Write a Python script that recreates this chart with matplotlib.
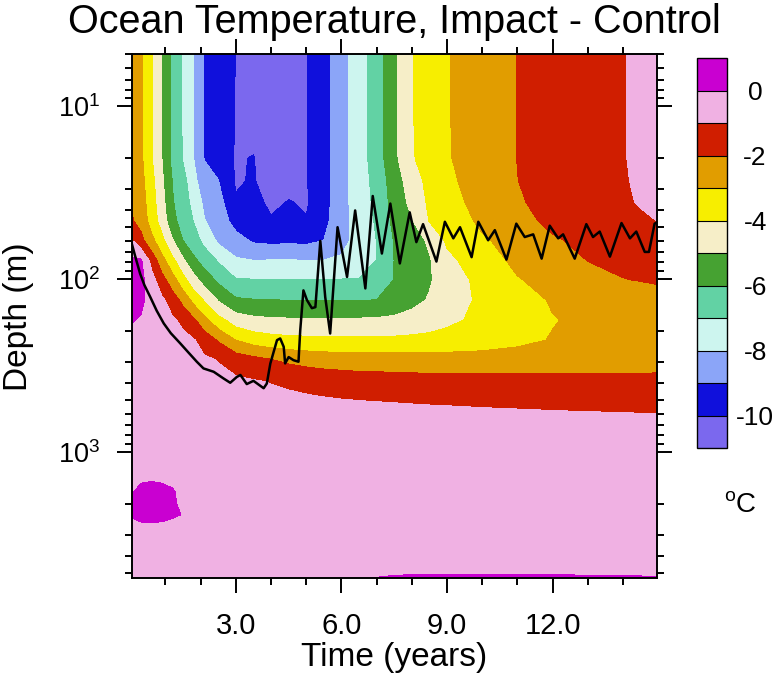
import numpy as np
import matplotlib
matplotlib.use("Agg")
import matplotlib.pyplot as plt
from matplotlib.ticker import FixedLocator, LogLocator, NullFormatter, FormatStrFormatter

plt.rcParams['font.family'] = ['Liberation Sans', 'DejaVu Sans']
plt.rcParams['axes.unicode_minus'] = False
plt.rcParams['mathtext.default'] = 'regular'

# time axis (years) and depth axis (m) of the temperature difference grid
time_yr = [0.04, 0.3, 0.6, 0.9, 1.2, 1.5, 1.8, 2.1, 2.5, 3.0, 3.5, 4.0, 4.5, 5.0, 5.5,
           6.0, 6.5, 7.0, 7.5, 8.0, 8.5, 9.0, 10.0, 11.0, 12.0, 13.0, 14.0, 14.5, 14.96]
depth_m = [5, 12, 20, 27, 36, 46, 60, 78, 101, 132, 172, 225, 290, 390, 490, 600, 800,
           1100, 1450, 1700, 2000, 2300, 2600, 3200, 4200, 5000, 5370]

# impact - control temperature (degC), one list per depth level
d5 = [-2.1, -2.82, -3.92, -5.02, -6.29, -7.09, -8.02, -9.04, -9.48, -10.02, -10.41, -10.8, -10.42, -10.05, -9.42,
      -8.36, -7.47, -6.5, -5.22, -4.05, -3.54, -3.06, -2.5, -1.98, -1.66, -1.35, -1.04, -0.82, -0.6]
d12 = [-2.1, -2.82, -3.92, -5.02, -6.29, -7.09, -8.02, -9.04, -9.48, -10.04, -10.38, -10.78, -10.42, -10.05, -9.42,
       -8.36, -7.47, -6.5, -5.22, -4.06, -3.54, -3.06, -2.5, -1.98, -1.66, -1.35, -1.04, -0.83, -0.61]
d20 = [-2.1, -2.8, -3.9, -5.0, -6.27, -7.07, -8.0, -9.02, -9.3, -10.1, -9.95, -10.7, -10.4, -10.05, -9.42,
       -8.36, -7.47, -6.52, -5.25, -4.1, -3.56, -3.08, -2.52, -1.99, -1.67, -1.36, -1.05, -0.83, -0.65]
d27 = [-2.05, -2.67, -3.67, -4.83, -6.04, -6.68, -7.63, -8.75, -8.98, -10.1, -9.92, -10.55, -10.3, -10.05, -9.43,
       -8.33, -7.5, -6.67, -5.5, -4.5, -3.7, -3.2, -2.56, -2.01, -1.69, -1.38, -1.06, -0.9, -0.8]
d36 = [-2.08, -2.52, -3.53, -4.65, -5.92, -6.56, -7.29, -8.2, -8.6, -9.9, -9.7, -10.2, -9.95, -10.1, -9.38,
       -8.35, -7.53, -6.76, -5.62, -4.75, -3.82, -3.36, -2.66, -2.09, -1.73, -1.41, -1.1, -0.95, -0.9]
d46 = [-1.9, -2.33, -3.41, -4.43, -5.71, -6.44, -7.03, -7.94, -8.54, -9.3, -9.7, -9.9, -9.8, -9.95, -9.28,
       -8.36, -7.58, -6.89, -5.75, -5.07, -3.96, -3.56, -2.82, -2.24, -1.83, -1.55, -1.27, -1.13, -1.0]
d60 = [-0.9, -1.67, -2.67, -3.69, -4.91, -5.99, -6.58, -7.24, -8.15, -8.68, -9.1, -9.2, -9.15, -9.2, -8.98,
       -8.31, -7.64, -6.99, -5.95, -5.45, -4.86, -3.86, -3.14, -2.6, -2.1, -1.81, -1.58, -1.46, -1.35]
d78 = [0.25, 0.15, -1.3, -2.63, -3.71, -4.82, -5.76, -6.39, -7.08, -7.85, -7.98, -7.95, -7.95, -7.97, -7.97,
       -7.85, -7.55, -6.99, -5.99, -5.55, -5.09, -4.27, -3.39, -2.82, -2.41, -1.99, -1.87, -1.81, -1.75]
d101 = [0.45, 0.3, -0.6, -1.61, -2.59, -3.64, -4.61, -5.4, -6.19, -6.92, -6.95, -6.95, -6.95, -6.95, -6.95,
        -6.95, -6.93, -6.82, -5.96, -5.52, -5.09, -4.56, -3.69, -3.06, -2.69, -2.34, -2.02, -1.98, -1.95]
d132 = [0.35, 0.2, -0.35, -0.83, -1.45, -2.32, -3.29, -4.08, -5.08, -5.85, -5.95, -5.98, -6.01, -6.02, -6.02,
        -6.02, -6.01, -5.99, -5.64, -5.29, -4.92, -4.5, -3.81, -3.33, -2.93, -2.68, -2.44, -2.31, -2.2]
d172 = [0.05, -0.08, -0.45, -0.7, -0.88, -1.19, -1.83, -2.67, -3.67, -4.47, -4.75, -4.85, -4.88, -4.9, -4.9,
        -4.9, -4.88, -4.85, -4.78, -4.62, -4.45, -4.2, -3.78, -3.41, -3.04, -2.84, -2.67, -2.58, -2.5]
d225 = [-0.25, -0.35, -0.45, -0.55, -0.65, -0.78, -0.93, -1.39, -2.09, -3.01, -3.4, -3.6, -3.7, -3.75, -3.78,
        -3.8, -3.8, -3.8, -3.78, -3.75, -3.7, -3.62, -3.45, -3.22, -2.95, -2.78, -2.6, -2.52, -2.45]
d290 = [-0.35, -0.4, -0.45, -0.52, -0.6, -0.68, -0.78, -0.88, -1.05, -1.45, -1.75, -2.01, -2.2, -2.35, -2.45,
        -2.5, -2.55, -2.55, -2.55, -2.58, -2.6, -2.6, -2.6, -2.55, -2.5, -2.45, -2.4, -2.38, -2.35]
d390 = [-0.45, -0.47, -0.5, -0.52, -0.55, -0.58, -0.62, -0.66, -0.72, -0.82, -0.93, -1.04, -1.15, -1.25, -1.35,
        -1.42, -1.48, -1.52, -1.55, -1.58, -1.6, -1.62, -1.65, -1.68, -1.7, -1.72, -1.73, -1.74, -1.75]
d490 = [-0.5, -0.5, -0.5, -0.52, -0.53, -0.55, -0.56, -0.58, -0.6, -0.65, -0.7, -0.76, -0.83, -0.9, -0.96,
        -1.01, -1.04, -1.06, -1.08, -1.1, -1.12, -1.13, -1.16, -1.18, -1.2, -1.22, -1.23, -1.24, -1.25]
d600 = [-0.5, -0.5, -0.5, -0.5, -0.5, -0.5, -0.52, -0.53, -0.54, -0.55, -0.56, -0.58, -0.6, -0.62, -0.65,
        -0.68, -0.71, -0.74, -0.77, -0.8, -0.82, -0.84, -0.88, -0.91, -0.94, -0.96, -0.98, -0.99, -0.99]
d800 = [-0.5, -0.5, -0.5, -0.5, -0.5, -0.5, -0.5, -0.5, -0.5, -0.52, -0.52, -0.54, -0.55, -0.56, -0.57,
        -0.58, -0.6, -0.61, -0.62, -0.63, -0.64, -0.65, -0.66, -0.67, -0.68, -0.69, -0.7, -0.7, -0.7]
d1100 = [-0.45, -0.45, -0.45, -0.45, -0.45, -0.48, -0.5, -0.5, -0.5, -0.5, -0.5, -0.5, -0.5, -0.5, -0.5,
         -0.5, -0.5, -0.5, -0.5, -0.5, -0.5, -0.5, -0.52, -0.52, -0.53, -0.53, -0.54, -0.54, -0.54]
d1450 = [-0.3, -0.1, -0.05, -0.1, -0.2, -0.4, -0.48, -0.5, -0.5, -0.5, -0.5, -0.5, -0.5, -0.5, -0.5,
         -0.5, -0.5, -0.5, -0.5, -0.5, -0.5, -0.5, -0.5, -0.5, -0.5, -0.5, -0.5, -0.5, -0.5]
d1700 = [-0.1, 0.3, 0.35, 0.3, 0.1, -0.3, -0.45, -0.5, -0.5, -0.5, -0.5, -0.5, -0.5, -0.5, -0.5,
         -0.5, -0.5, -0.5, -0.5, -0.5, -0.5, -0.5, -0.5, -0.5, -0.5, -0.5, -0.5, -0.5, -0.5]
d2000 = [0.02, 0.35, 0.4, 0.35, 0.1, -0.15, -0.45, -0.5, -0.5, -0.5, -0.5, -0.5, -0.5, -0.5, -0.5,
         -0.5, -0.5, -0.5, -0.5, -0.5, -0.5, -0.5, -0.5, -0.5, -0.5, -0.5, -0.5, -0.5, -0.5]
d2300 = [0.2, 0.35, 0.4, 0.3, 0.2, -0.05, -0.4, -0.5, -0.5, -0.5, -0.5, -0.5, -0.5, -0.5, -0.5,
         -0.5, -0.5, -0.5, -0.5, -0.5, -0.5, -0.5, -0.5, -0.5, -0.5, -0.5, -0.5, -0.5, -0.5]
d2600 = [-0.4, -0.1, -0.05, -0.1, -0.3, -0.45, -0.5, -0.5, -0.5, -0.5, -0.5, -0.5, -0.5, -0.5, -0.5,
         -0.5, -0.5, -0.5, -0.5, -0.5, -0.5, -0.5, -0.5, -0.5, -0.5, -0.5, -0.5, -0.5, -0.5]
d3200 = [-0.45, -0.45, -0.45, -0.45, -0.45, -0.45, -0.45, -0.45, -0.45, -0.45, -0.45, -0.45, -0.45, -0.45, -0.45,
         -0.45, -0.45, -0.45, -0.45, -0.45, -0.45, -0.45, -0.45, -0.45, -0.45, -0.45, -0.45, -0.45, -0.45]
d4200 = [-0.4, -0.4, -0.4, -0.4, -0.4, -0.4, -0.4, -0.4, -0.4, -0.4, -0.4, -0.4, -0.4, -0.4, -0.4,
         -0.4, -0.38, -0.35, -0.33, -0.32, -0.32, -0.32, -0.32, -0.33, -0.33, -0.34, -0.35, -0.35, -0.36]
d5000 = [-0.4, -0.4, -0.4, -0.4, -0.4, -0.4, -0.4, -0.4, -0.4, -0.4, -0.4, -0.4, -0.4, -0.4, -0.4,
         -0.4, -0.3, -0.2, -0.12, -0.1, -0.08, -0.08, -0.08, -0.1, -0.1, -0.12, -0.12, -0.15, -0.2]
d5370 = [-0.3, -0.3, -0.3, -0.3, -0.3, -0.3, -0.3, -0.3, -0.3, -0.3, -0.3, -0.3, -0.3, -0.3, -0.3,
         -0.3, -0.05, 0.05, 0.15, 0.22, 0.25, 0.25, 0.25, 0.22, 0.2, 0.18, 0.15, 0.12, 0.08]

# black line: depth of the mixed layer (m)
mld_time = [0.04, 0.15, 0.28, 0.4, 0.57, 0.75, 0.95, 1.15, 1.42, 1.65, 1.89, 2.08, 2.37, 2.65, 2.84,
            3.03, 3.13, 3.31, 3.5, 3.79, 3.88, 3.98, 4.17, 4.26, 4.36, 4.40, 4.5, 4.64, 4.78, 4.83,
            4.92, 5.02, 5.16, 5.26, 5.40, 5.54, 5.68, 5.89, 6.16, 6.39, 6.68, 6.89, 7.15, 7.39, 7.66,
            7.94, 8.13, 8.32, 8.7, 8.94, 9.18, 9.37, 9.7, 9.89, 10.17, 10.36, 10.69, 10.97, 11.21, 11.45,
            11.69, 11.92, 12.16, 12.3, 12.63, 12.96, 13.15, 13.34, 13.63, 13.96, 14.2, 14.38, 14.62, 14.74,
            14.9, 14.96]
mld_depth = [62, 75, 93, 108, 127, 152, 180, 205, 235, 265, 300, 328, 343, 375, 397,
             367, 358, 404, 387, 427, 401, 307, 225, 220, 246, 307, 282, 294, 300, 197,
             116, 132, 147, 145, 60, 127, 206, 50, 97, 40, 113, 33, 71, 36.5, 81,
             41, 61, 48, 79, 46.5, 58, 50, 74.5, 46.5, 59.5, 52, 77, 47.7, 57, 55,
             76, 49, 58, 55, 76, 48, 57, 53, 74, 47.3, 58, 53, 69.5, 69.5,
             47.7, 47]

levels = [-30, -10, -9, -8, -7, -6, -5, -4, -3, -2, -1, 0, 10]
fill_colors = ['#7B68EE', '#1010DC', '#8BA5F8', '#CDF5EF', '#62D2A4', '#46A232',
               '#F6EEC8', '#F7EE00', '#E19D00', '#D01E00', '#F0B1E3', '#C900D1']
cbar_ticks = [0, -2, -4, -6, -8, -10]

field = np.array([d5, d12, d20, d27, d36, d46, d60, d78, d101, d132, d172, d225, d290, d390,
                  d490, d600, d800, d1100, d1450, d1700, d2000, d2300, d2600, d3200, d4200,
                  d5000, d5370])

fig = plt.figure(figsize=(7.83, 6.93), dpi=100)
ax = fig.add_axes([0.1682, 0.1655, 0.6705, 0.7561])

cs = ax.contourf(time_yr, depth_m, field, levels=levels, colors=fill_colors)
ax.plot(mld_time, mld_depth, color='black', lw=1.8)

ax.set_yscale('log')
ax.set_ylim(5370, 5.0)
ax.set_xlim(0.04, 14.96)

ax.xaxis.set_major_locator(FixedLocator([3, 6, 9, 12]))
ax.xaxis.set_minor_locator(FixedLocator([1, 2, 4, 5, 7, 8, 10, 11, 13, 14]))
ax.xaxis.set_major_formatter(FormatStrFormatter('%.1f'))
ax.yaxis.set_major_locator(LogLocator(base=10, numticks=10))
ax.yaxis.set_minor_locator(LogLocator(base=10, subs=np.arange(2, 10), numticks=20))
ax.yaxis.set_minor_formatter(NullFormatter())

ax.tick_params(which='both', direction='out', top=True, right=True, width=1.4)
ax.tick_params(which='major', length=10.5)
ax.tick_params(which='minor', length=5)
ax.tick_params(axis='x', which='major', labelsize=21, pad=14)
ax.tick_params(axis='y', which='major', labelsize=19.5, pad=12)
for s in ax.spines.values():
    s.set_linewidth(1.4)

ax.set_xlabel('Time (years)', fontsize=24, va='center')
ax.xaxis.set_label_coords(0.5, -0.152)
ax.set_ylabel('Depth (m)', fontsize=24, va='center')
ax.yaxis.set_label_coords(-0.2147, 0.5)
ax.set_title('Ocean Temperature, Impact - Control', fontsize=28.5, va='center', y=1.0616, pad=0)

cax = fig.add_axes([0.8898, 0.3535, 0.0391, 0.5623])
cb = fig.colorbar(cs, cax=cax, ticks=cbar_ticks, spacing='uniform', drawedges=True)
cb.outline.set_linewidth(1.0)
cb.dividers.set_linewidth(0.8)
cb.ax.tick_params(length=0, labelsize=19, pad=20)
for lab in cb.ax.get_yticklabels():
    lab.set_ha('center')
fig.text(740 / 783, 1 - 505 / 693, '$^{o}$C', fontsize=20, ha='center', va='center')

fig.savefig('out.png', dpi=100)
